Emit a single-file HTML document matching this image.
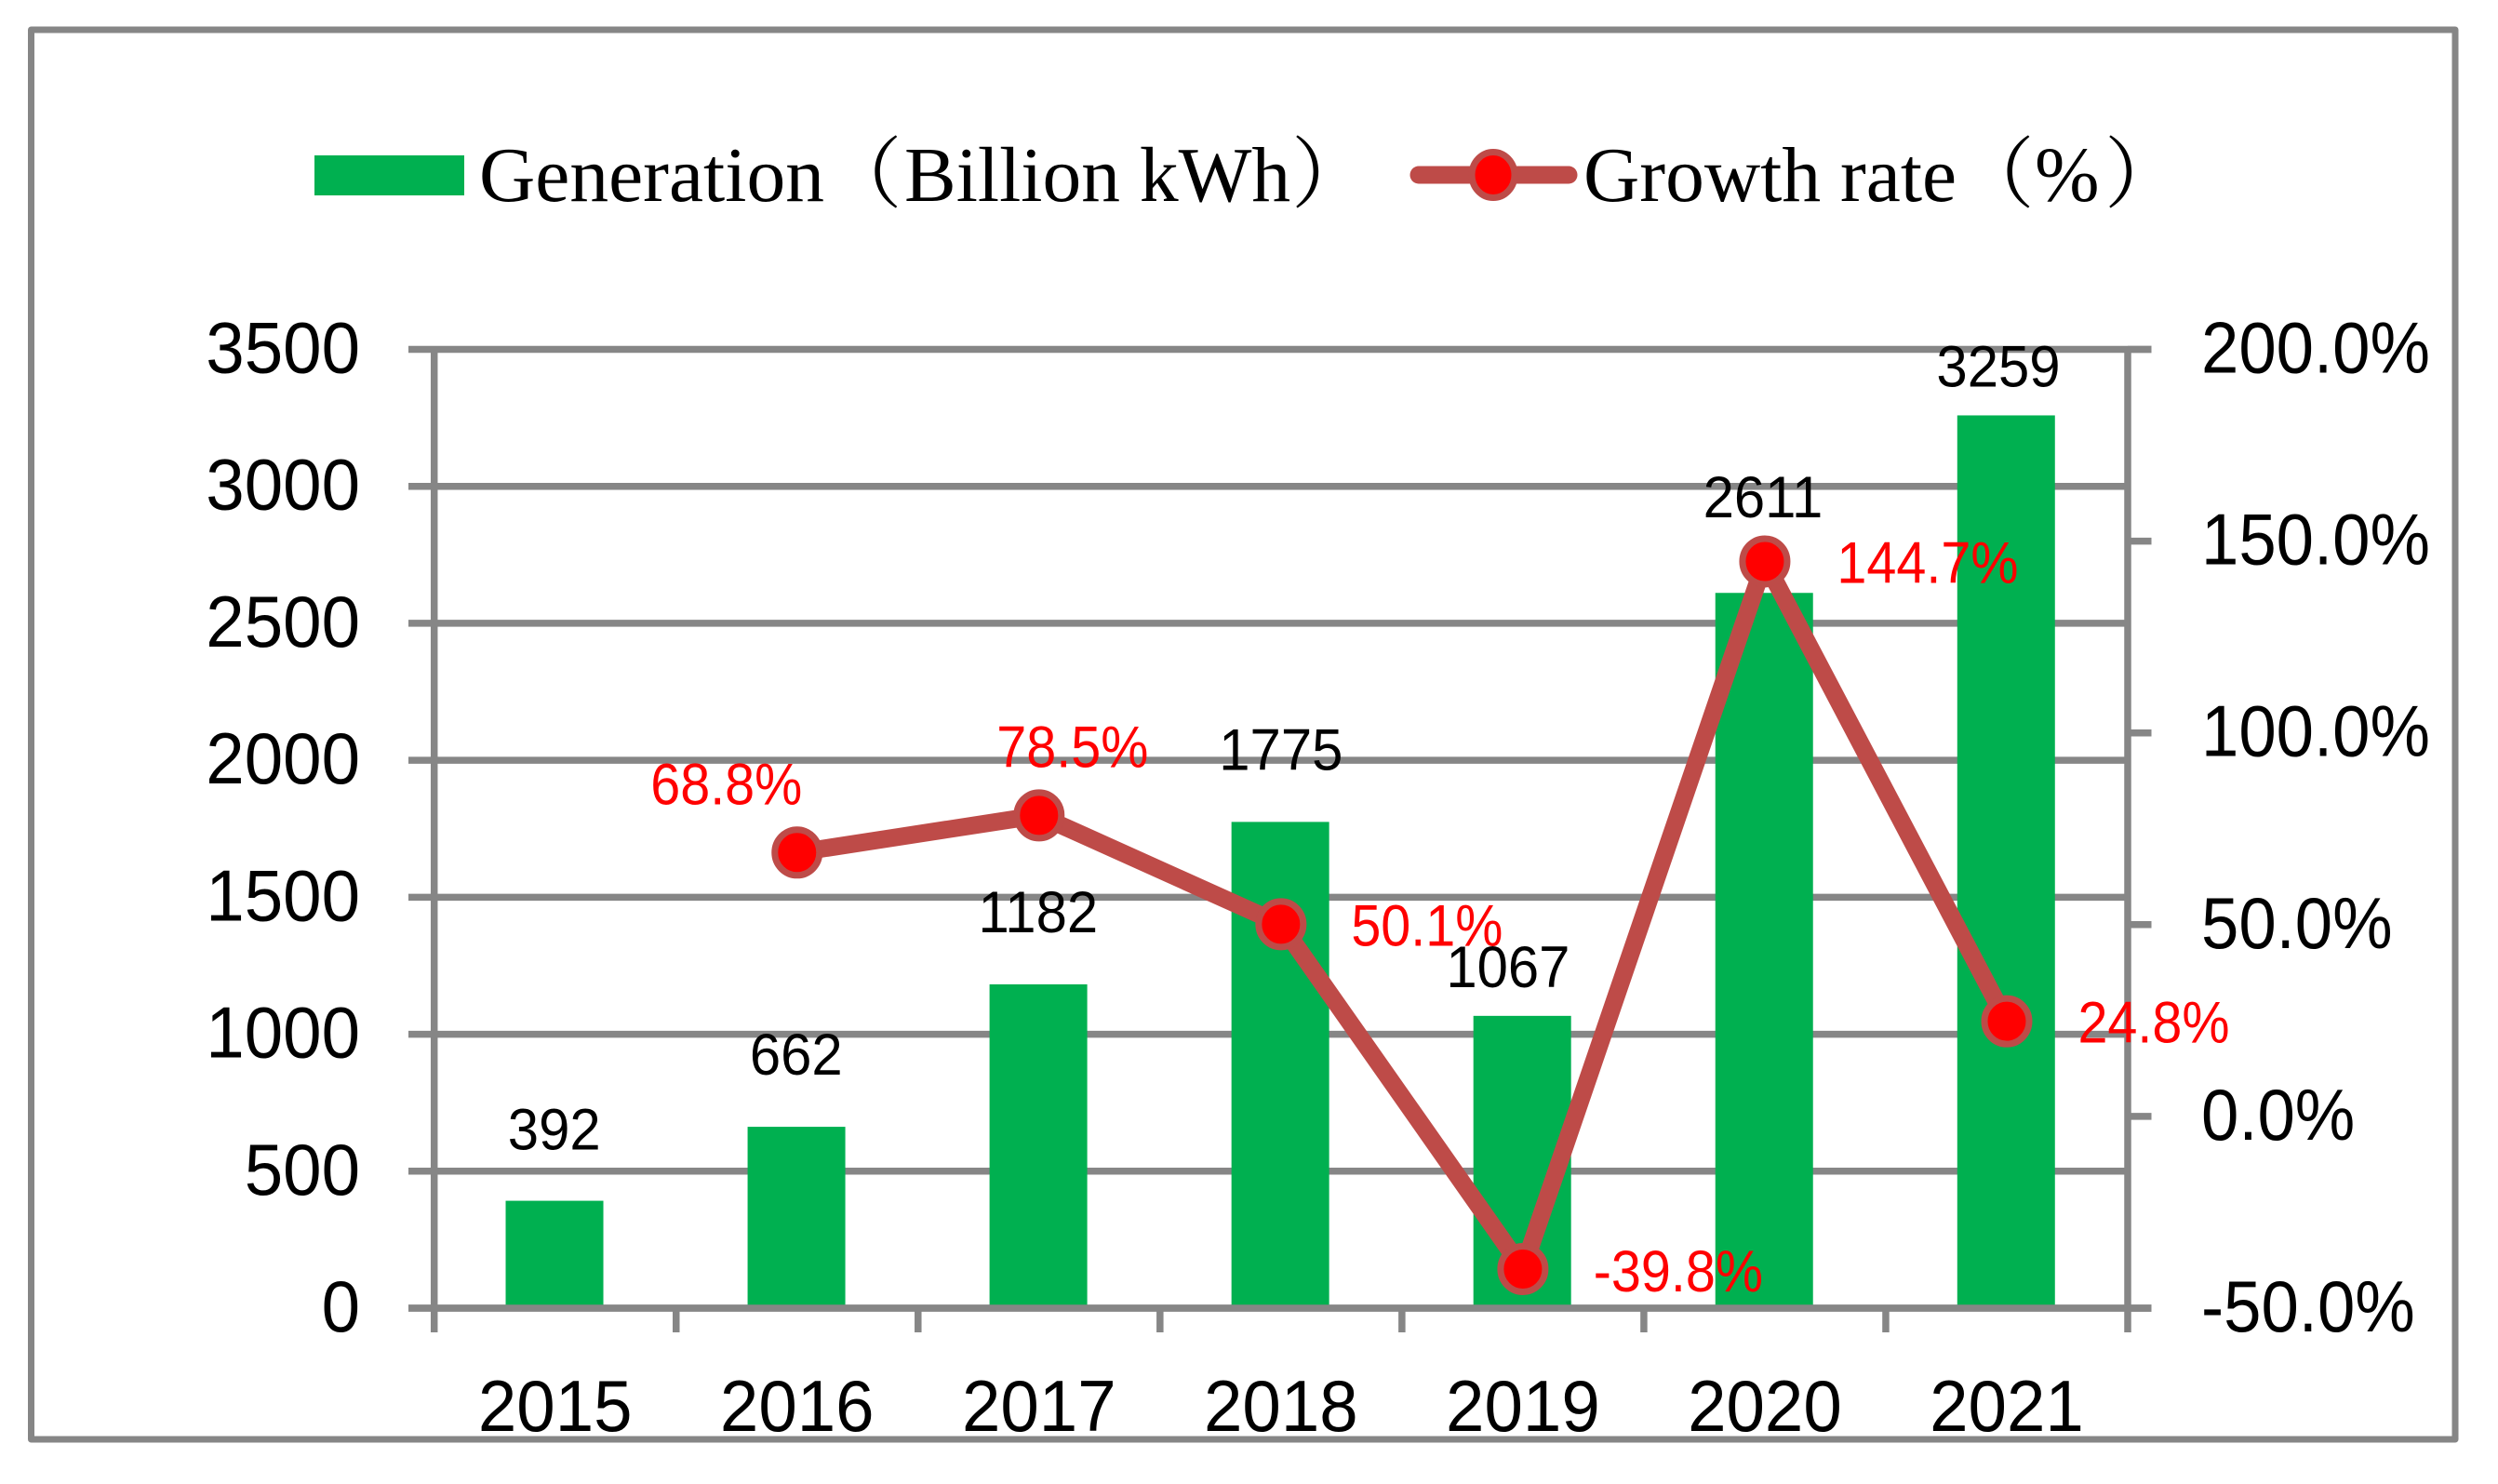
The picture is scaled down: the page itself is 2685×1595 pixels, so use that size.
<!DOCTYPE html>
<html lang="en">
<head>
<meta charset="utf-8">
<title>Generation and growth rate chart</title>
<style>
html,body{margin:0;padding:0;background:#fff;width:2685px;height:1595px;overflow:hidden}
svg{display:block}
.tick{font-family:"Liberation Sans",sans-serif;font-size:78px;fill:#000}
.dl{font-family:"Liberation Sans",sans-serif;font-size:63px}
.leg{font-family:"Liberation Serif","Noto Serif CJK SC",serif;font-size:83.5px;fill:#000}
</style>
</head>
<body>
<svg id="chart" xmlns="http://www.w3.org/2000/svg" width="2685" height="1595" viewBox="0 0 2685 1595">
  <rect x="33.5" y="32" width="2605.5" height="1515" fill="#fff" stroke="#868686" stroke-width="7" stroke-linejoin="round"/>
  <g id="plot"></g>
  <g>
    <g>
      <rect x="338" y="167" width="161" height="43" fill="#00B050"/>
      <text class="leg" x="515" y="216">Generation（<tspan x="972">Billion kWh</tspan><tspan x="1388">）</tspan></text>
    </g>
    <g>
      <line x1="1525" y1="188" x2="1686" y2="188" stroke="#BE4B48" stroke-width="19" stroke-linecap="round"/>
      <ellipse cx="1605" cy="188" rx="23" ry="24.5" fill="#FF0000" stroke="#BE4B48" stroke-width="7"/>
      <text class="leg" x="1702" y="216">Growth rate（<tspan x="2187">%</tspan><tspan x="2262">）</tspan></text>
    </g>
  </g>
</svg>
<script>
const categories = ["2015","2016","2017","2018","2019","2020","2021"];
const generation = [392,662,1182,1775,1067,2611,3259];
const growthRate = [null,68.8,78.5,50.1,-39.8,144.7,24.8];
const leftTicks = [0,500,1000,1500,2000,2500,3000,3500];
const rightTicks = [-50,0,50,100,150,200];

const NS = "http://www.w3.org/2000/svg";
const plotLeft = 466.7, plotRight = 2287, plotTop = 375.5, plotBottom = 1406;
const leftMax = 3500, rightMin = -50, rightMax = 200;
const barWidth = 105;
const plot = document.getElementById("plot");

function xCenter(i){ return plotLeft + (i + 0.5) * (plotRight - plotLeft) / categories.length; }
function xEdge(i){ return plotLeft + i * (plotRight - plotLeft) / categories.length; }
function yLeft(v){ return plotBottom - v / leftMax * (plotBottom - plotTop); }
function yRight(v){ return plotBottom - (v - rightMin) / (rightMax - rightMin) * (plotBottom - plotTop); }

function make(tag, attrs, parent){
  const n = document.createElementNS(NS, tag);
  for (const k in attrs) n.setAttribute(k, attrs[k]);
  (parent || plot).appendChild(n);
  return n;
}
function label(cls, str, x, y, anchor, sx, fill){
  const t = make("text", {class: cls, transform: "translate(" + x + "," + y + ") scale(" + sx + ",1)", "text-anchor": anchor, fill: fill});
  t.textContent = str;
  return t;
}

const GRID = "#868686", AXW = 7.5;

// horizontal gridlines
leftTicks.forEach(function(v){
  const edge = (v === 0 || v === leftMax);
  const g = make("line", {x1: 439, x2: edge ? 2312.5 : plotRight, y1: yLeft(v), y2: yLeft(v), stroke: GRID, "stroke-width": AXW});
  
  
});

// bars
generation.forEach(function(v, i){
  const b = make("rect", {x: xCenter(i) - barWidth / 2 - 0.7, y: yLeft(v), width: barWidth, height: plotBottom - yLeft(v), fill: "#00B050"});
  
  
});

// baseline over the bars
const base = make("line", {x1: 439, x2: 2312.5, y1: plotBottom, y2: plotBottom, stroke: GRID, "stroke-width": AXW});



// axes
const leftAxis = make("line", {x1: plotLeft, x2: plotLeft, y1: plotTop, y2: 1432, stroke: GRID, "stroke-width": AXW});


const rightAxis = make("line", {x1: plotRight, x2: plotRight, y1: plotTop, y2: 1432, stroke: GRID, "stroke-width": AXW});



// x ticks
for (let i = 1; i < categories.length; i++){
  const t = make("line", {x1: xEdge(i), x2: xEdge(i), y1: plotBottom, y2: 1432, stroke: GRID, "stroke-width": AXW});
  
  
}

// right ticks
rightTicks.forEach(function(v){
  const t = make("line", {x1: plotRight, x2: 2312.5, y1: yRight(v), y2: yRight(v), stroke: GRID, "stroke-width": AXW});
  
  
});

// growth line
let pathD = "";
growthRate.forEach(function(v, i){
  if (v === null) return;
  pathD += (pathD ? "L" : "M") + xCenter(i) + " " + yRight(v);
});
const line = make("path", {d: pathD, fill: "none", stroke: "#BE4B48", "stroke-width": 19, "stroke-linejoin": "round"});



// markers
growthRate.forEach(function(v, i){
  if (v === null) return;
  const m = make("ellipse", {cx: xCenter(i), cy: yRight(v), rx: 24, ry: 24.5, fill: "#FF0000", stroke: "#BE4B48", "stroke-width": 7});
  
  
});

// left tick labels
leftTicks.forEach(function(v){
  const t = label("tick", String(v), 387, yLeft(v) + 25, "end", 0.955, "#000");
  
  
});

// right tick labels
rightTicks.forEach(function(v){
  const t = label("tick", v.toFixed(1) + "%", 2366, yRight(v) + 25, "start", 0.93, "#000");
  
  
});

// category labels
categories.forEach(function(c, i){
  const t = label("tick", c, xCenter(i), 1538, "middle", 0.955, "#000");
  
  
});

// bar value labels (hand-placed in the source chart, so nudged relative to each mark)
function barLabelNudge(i){
  return [[-1,-55],[-1,-56],[-1,-56],[0,-56],[-16,-31],[-2,-81],[-9,-31]][i];
}
generation.forEach(function(v, i){
  const n = barLabelNudge(i);
  const t = label("dl", String(v), xCenter(i) + n[0], yLeft(v) + n[1], "middle", 0.95, "#000");
  
  
});

// growth value labels
function growthLabelNudge(i){
  return [null,[-76,-52],[36,-52],[157,23],[167,24],[175,23],[158,23]][i];
}
growthRate.forEach(function(v, i){
  if (v === null) return;
  const n = growthLabelNudge(i);
  const t = label("dl", v.toFixed(1) + "%", xCenter(i) + n[0], yRight(v) + n[1], "middle", 0.913, "#FF0000");
  
  
});
</script>
</body>
</html>
